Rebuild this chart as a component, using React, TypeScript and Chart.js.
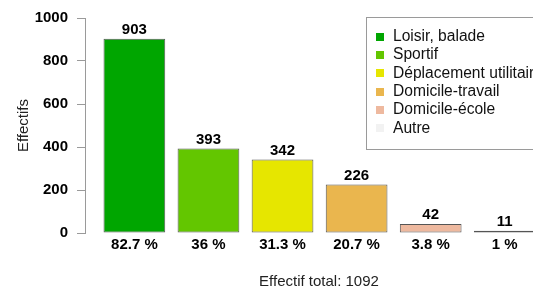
import React, { useEffect, useRef } from "react";
import { Chart, registerables } from "chart.js";

Chart.register(...registerables);

const categories = [
  "Loisir, balade",
  "Sportif",
  "Déplacement utilitaire",
  "Domicile-travail",
  "Domicile-école",
  "Autre",
];
const counts = [903, 393, 342, 226, 42, 11];
const percents = [82.7, 36, 31.3, 20.7, 3.8, 1];
const colors = ["#00A600", "#63C600", "#E6E600", "#EAB64E", "#EEB99F", "#F2F2F2"];
const yTicks = [0, 200, 400, 600, 800, 1000];
const total = 1092;
const yTitle = "Effectifs";
const xCaption = "Effectif total: " + total;

const FONT = "'Liberation Sans', Arial, Helvetica, sans-serif";
const barPos = (i: number) => 0.7 + 1.2 * i;

export default function App() {
  const ref = useRef<HTMLCanvasElement | null>(null);

  useEffect(() => {
    document.body.style.margin = "0";
    document.body.style.overflow = "hidden";
    const canvas = ref.current;
    if (!canvas) return;

    const labelsPlugin = {
      id: "labelsPlugin",
      afterDatasetsDraw(chart: any) {
        const ctx = chart.ctx;
        const meta = chart.getDatasetMeta(0);
        ctx.save();
        ctx.textAlign = "center";
        ctx.textBaseline = "middle";
        ctx.fillStyle = "#000";
        ctx.font = `bold 15px ${FONT}`;
        meta.data.forEach((bar: any, i: number) => {
          ctx.fillText(String(counts[i]), bar.x, bar.y - 9);
          ctx.fillText(percents[i] + " %", bar.x, bar.base + 12);
        });
        ctx.font = `15px ${FONT}`;
        ctx.fillStyle = "#222";
        ctx.fillText(xCaption, 319, 282);
        ctx.restore();
      },
      afterDraw(chart: any) {
        const ctx = chart.ctx;
        ctx.save();
        const bx = 366.5, by = 17.5, bw = 220, bh = 132;
        ctx.fillStyle = "#fff";
        ctx.fillRect(bx, by, bw, bh);
        ctx.strokeStyle = "#9a9a9a";
        ctx.lineWidth = 1;
        ctx.strokeRect(bx, by, bw, bh);
        ctx.font = `15.6px ${FONT}`;
        ctx.textAlign = "left";
        ctx.textBaseline = "middle";
        categories.forEach((c, i) => {
          const y = 36.5 + i * 18.35;
          ctx.fillStyle = colors[i];
          ctx.fillRect(376, Math.round(y - 4), 8, 8);
          ctx.fillStyle = "#111";
          ctx.fillText(c, 393, y);
        });
        ctx.restore();
      },
    };

    const chart = new Chart(canvas, {
      type: "bar",
      data: {
        datasets: [
          {
            data: counts.map((v, i) => ({ x: barPos(i), y: v })),
            backgroundColor: colors,
            borderColor: "#555",
            borderWidth: 1,
            borderSkipped: false,
            barPercentage: 1 / 1.2,
            categoryPercentage: 1,
          },
        ],
      },
      options: {
        responsive: false,
        animation: false,
        layout: { padding: { left: 0, right: 15, top: 16, bottom: 56 } },
        plugins: { legend: { display: false }, tooltip: { enabled: false } },
        scales: {
          x: {
            type: "linear",
            min: -0.1,
            max: 8.0,
            offset: false,
            display: false,
            afterBuildTicks(scale: any) {
              scale.ticks = counts.map((_, i) => ({ value: barPos(i) }));
            },
          },
          y: {
            min: 0,
            max: 1000,
            afterFit(scale: any) {
              scale.width = 85;
            },
            afterBuildTicks(scale: any) {
              scale.ticks = yTicks.map((v) => ({ value: v }));
            },
            grid: {
              drawOnChartArea: false,
              drawTicks: true,
              tickLength: 8,
              color: "#9a9a9a",
            },
            border: { display: true, color: "#9a9a9a" },
            ticks: {
              padding: 9,
              color: "#000",
              font: { family: FONT, size: 15, weight: "bold" },
              callback: (v: any) => String(v),
            },
            title: {
              display: true,
              text: yTitle,
              color: "#222",
              font: { family: FONT, size: 15 },
              padding: { top: 15, bottom: 0 },
            },
          },
        },
      },
      plugins: [labelsPlugin],
    } as any);

    return () => chart.destroy();
  }, []);

  return (
    <div style={{ width: 600, height: 289, overflow: "hidden" }}>
      <canvas ref={ref} width={600} height={289} style={{ display: "block" }} />
    </div>
  );
}
